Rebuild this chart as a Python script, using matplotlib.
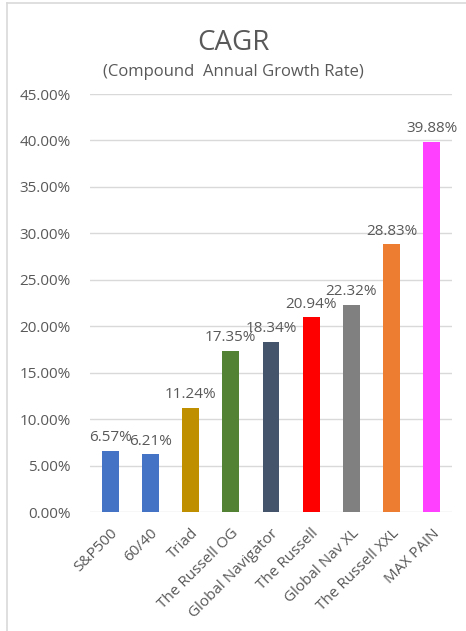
import numpy as np
import matplotlib.pyplot as plt
from matplotlib.ticker import FuncFormatter
from matplotlib.lines import Line2D

# CAGR by strategy
names = ['S&P500', '60/40', 'Triad', 'The Russell OG', 'Global Navigator',
         'The Russell', 'Global Nav XL', 'The Russell XXL', 'MAX PAIN']
cagr = [6.57, 6.21, 11.24, 17.35, 18.34, 20.94, 22.32, 28.83, 39.88]
colors = ['#4472C4', '#4472C4', '#BF8F00', '#548235', '#44546A',
          '#FF0000', '#808080', '#ED7D31', '#FF40FF']

plt.rcParams['font.family'] = ['Open Sans', 'DejaVu Sans']
txt = '#595959'

fig = plt.figure(figsize=(4.66, 6.31), dpi=100)
ax = fig.add_axes([90/466, 1 - 512/631, 362/466, (512 - 94)/631])

x = np.arange(len(names))
ax.bar(x, cagr, width=0.42, color=colors, zorder=2)
for xi, v in zip(x, cagr):
    ax.text(xi, v + 0.6, '{:.2f}%'.format(v), ha='center', va='bottom',
            fontsize=11, color=txt)

ax.set_xlim(-0.5, len(names) - 0.5)
ax.set_ylim(0, 45)
ax.set_yticks(np.arange(0, 46, 5))
ax.yaxis.set_major_formatter(FuncFormatter(lambda v, p: '{:.2f}%'.format(v)))
ax.grid(axis='y', color='#D9D9D9', linewidth=1, zorder=0)
ax.set_xticks(x)
ax.set_xticklabels(names, rotation=45, ha='right', rotation_mode='anchor')
ax.tick_params(axis='both', length=0, colors=txt, labelsize=11)
ax.tick_params(axis='y', pad=14)
ax.tick_params(axis='x', pad=10)
for s in ax.spines.values():
    s.set_visible(False)

fig.text(0.5, 1 - 43/631, 'CAGR', ha='center', va='center', fontsize=20, color=txt)
fig.text(0.5, 1 - 72/631, '(Compound  Annual Growth Rate)', ha='center', va='center',
         fontsize=12, color=txt)

# frame edges on the left and top
fig.add_artist(Line2D([7/466, 7/466], [0, 1 - 3/631], color='#D9D9D9', lw=1.2))
fig.add_artist(Line2D([7/466, 1], [1 - 3/631, 1 - 3/631], color='#D9D9D9', lw=1.2))

fig.savefig('out.png', dpi=100)
